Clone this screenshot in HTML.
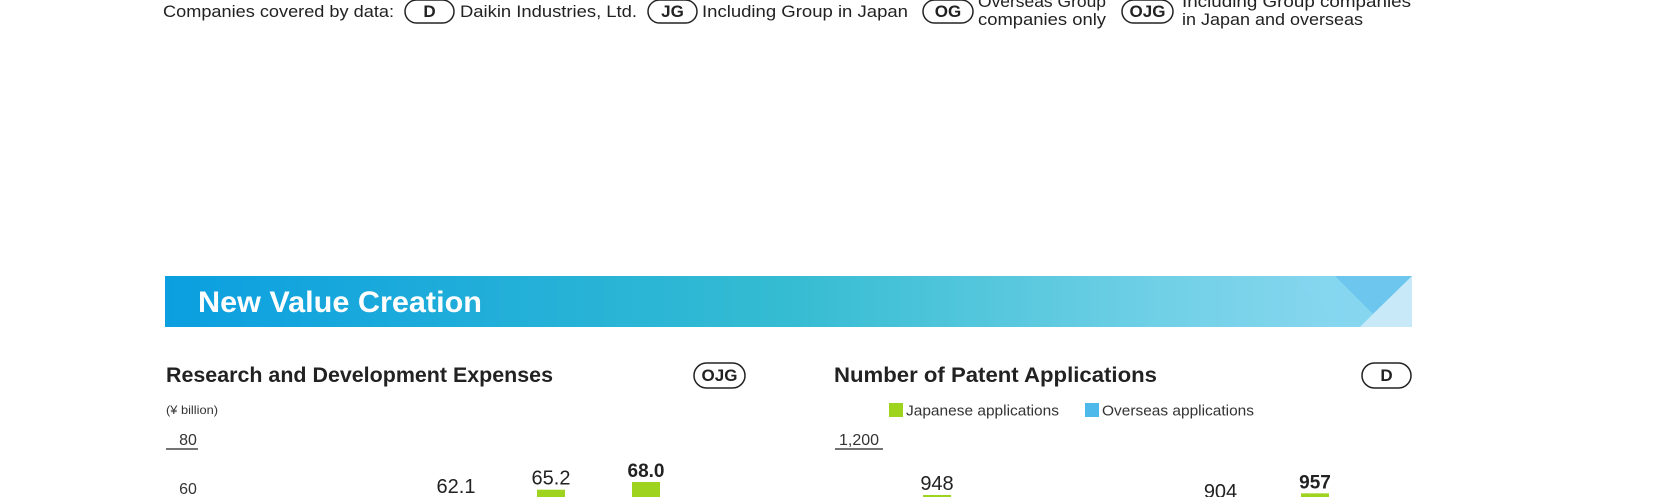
<!DOCTYPE html>
<html><head><meta charset="utf-8"><style>
html,body{margin:0;padding:0;background:#fff;width:1654px;height:497px;overflow:hidden}
svg{display:block;font-family:"Liberation Sans",sans-serif;overflow:hidden}
</style></head><body>
<svg width="1654" height="497" viewBox="0 0 1654 497">
<defs>
<linearGradient id="bg" x1="0" x2="1" y1="0" y2="0">
<stop offset="0" stop-color="#0b9fe0"/><stop offset="0.5" stop-color="#35bcd2"/><stop offset="0.8" stop-color="#70d0e6"/><stop offset="1" stop-color="#8fd9f2"/>
</linearGradient>
<clipPath id="frame"><rect x="0" y="0" width="1654" height="497"/></clipPath>
</defs>
<g fill="#222" font-size="17">
<text x="163" y="17" textLength="231" lengthAdjust="spacingAndGlyphs">Companies covered by data:</text>
<g><rect x="405" y="0" width="49" height="23" rx="11.5" fill="none" stroke="#222" stroke-width="1.5"/><text x="429.5" y="17" text-anchor="middle" font-weight="bold">D</text></g>
<text x="460" y="17" textLength="177" lengthAdjust="spacingAndGlyphs">Daikin Industries, Ltd.</text>
<g><rect x="648" y="0" width="49" height="23" rx="11.5" fill="none" stroke="#222" stroke-width="1.5"/><text x="672.5" y="17" text-anchor="middle" font-weight="bold">JG</text></g>
<text x="702" y="17" textLength="206" lengthAdjust="spacingAndGlyphs">Including Group in Japan</text>
<g><rect x="923" y="0" width="50" height="23" rx="11.5" fill="none" stroke="#222" stroke-width="1.5"/><text x="948" y="17" text-anchor="middle" font-weight="bold">OG</text></g>
<text x="978" y="7" textLength="128" lengthAdjust="spacingAndGlyphs">Overseas Group</text>
<text x="978" y="25" textLength="128" lengthAdjust="spacingAndGlyphs">companies only</text>
<g><rect x="1122" y="0" width="51" height="23" rx="11.5" fill="none" stroke="#222" stroke-width="1.5"/><text x="1147.5" y="17" text-anchor="middle" font-weight="bold">OJG</text></g>
<text x="1182" y="7" textLength="229" lengthAdjust="spacingAndGlyphs">Including Group companies</text>
<text x="1182" y="25" textLength="181" lengthAdjust="spacingAndGlyphs">in Japan and overseas</text>
</g>
<g>
<rect x="165" y="276" width="1247" height="51" fill="url(#bg)"/>
<polygon points="1290,276 1341,327 1412,327 1412,276" fill="#86d6f0" opacity="0.6"/>
<polygon points="1335,276 1412,276 1373,314" fill="#6cc6ee"/>
<polygon points="1373,314 1412,276 1412,327 1360,327" fill="#c8e9f8"/>
<text x="198" y="312" fill="#fff" font-size="30" font-weight="bold" textLength="284" lengthAdjust="spacingAndGlyphs">New Value Creation</text>
</g>
<g>
<text x="166" y="382" font-size="21" font-weight="bold" fill="#222" textLength="387" lengthAdjust="spacingAndGlyphs">Research and Development Expenses</text>
<g><rect x="694" y="363" width="51" height="25" rx="12.5" fill="none" stroke="#222" stroke-width="1.5"/><text x="719.5" y="381" text-anchor="middle" font-size="17" font-weight="bold" fill="#222">OJG</text></g>
<text x="166" y="414" font-size="12" fill="#333" textLength="52" lengthAdjust="spacingAndGlyphs">(¥ billion)</text>
<g id="rd" clip-path="url(#frame)"></g>
</g>
<g>
<text x="834" y="382" font-size="21" font-weight="bold" fill="#222" textLength="323" lengthAdjust="spacingAndGlyphs">Number of Patent Applications</text>
<g><rect x="1362" y="363" width="49" height="25" rx="12.5" fill="none" stroke="#222" stroke-width="1.5"/><text x="1386.5" y="381" text-anchor="middle" font-size="17" font-weight="bold" fill="#222">D</text></g>
<g><rect x="889" y="403" width="14" height="14" fill="#9ed31f"/><text x="906" y="415.5" font-size="15" fill="#333" textLength="153" lengthAdjust="spacingAndGlyphs">Japanese applications</text></g>
<g><rect x="1085" y="403" width="14" height="14" fill="#4db8ea"/><text x="1102" y="415.5" font-size="15" fill="#333" textLength="152" lengthAdjust="spacingAndGlyphs">Overseas applications</text></g>
<g id="pt" clip-path="url(#frame)"></g>
</g>
</svg>
<script>
const NS="http://www.w3.org/2000/svg";
const rdYears=["FY2019","FY2020","FY2021","FY2022","FY2023"];
const rdValues=[52.0,54.5,62.1,65.2,68.0];
const rdTicks=[60,80];
const rdTickLabels=["60","80"];
const ptYears=["FY2019","FY2020","FY2021","FY2022","FY2023"];
const ptTotals=[948,810,800,904,957];
const ptOverseas=[380,360,350,370,390];
const ptTicks=[1200];
const ptTickLabels=["1,200"];
const H=497;
function mk(tag,attrs,parent,text){const e=document.createElementNS(NS,tag);for(const k in attrs)e.setAttribute(k,attrs[k]);if(text!==undefined)e.textContent=text;parent.appendChild(e);return e;}
// R&D
const rdX=i=>266+i*95;
const rdY=v=>449+(80-v)*2.75;
const rd=document.getElementById('rd');
rdTicks.forEach((t,i)=>{
 const g=mk('g',{},rd);
 
 
 if(t===80) mk('line',{x1:166,x2:198,y1:rdY(t),y2:rdY(t),stroke:'#222','stroke-width':1.2},g);
 mk('text',{x:188,y:Math.min(rdY(t)-(t===80?4:10),494),'text-anchor':'middle','font-size':16,fill:'#333'},g,rdTickLabels[i]);
});
rdValues.forEach((v,i)=>{
 const top=rdY(v);
 const last=i===rdValues.length-1;
 if(top<H){
  const b=mk('rect',{x:rdX(i)-14,y:top,width:28,height:H-top,fill:'#9ed31f'},rd);
  
  
 }
 if(top-5<H+14){
  const t=mk('text',{x:rdX(i),y:top-5,'text-anchor':'middle','font-size':last?19:20,'font-weight':last?'bold':'normal',fill:'#222'},rd,v.toFixed(1));
  
  
 }
});
// Patents
const ptX=i=>937+i*94.5;
const ptY=v=>449+(1200-v)*0.1825;
const pt=document.getElementById('pt');
ptTicks.forEach((t,i)=>{
 const g=mk('g',{},pt);
 
 
 mk('line',{x1:835,x2:883,y1:ptY(t),y2:ptY(t),stroke:'#222','stroke-width':1.2},g);
 mk('text',{x:859,y:ptY(t)-4,'text-anchor':'middle','font-size':16,fill:'#333'},g,ptTickLabels[i]);
});
ptTotals.forEach((v,i)=>{
 const top=ptY(v);
 const last=i===ptTotals.length-1;
 if(top<H){
  const b=mk('rect',{x:ptX(i)-14,y:top,width:28,height:Math.min(H,ptY(ptOverseas[i]))-top,fill:'#9ed31f'},pt);
  
  
 }
 if(top-5<H+14){
  const t=mk('text',{x:ptX(i),y:top-5,'text-anchor':'middle','font-size':last?19:20,'font-weight':last?'bold':'normal',fill:'#222'},pt,String(v));
  
  
 }
});
</script>
</body></html>
